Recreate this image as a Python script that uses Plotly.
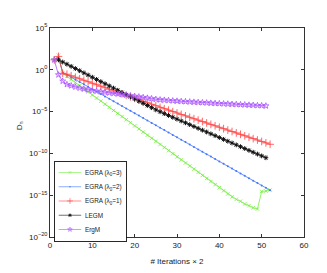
import numpy as np
import plotly.graph_objects as go

# ---- data (log10 of D_n) ----
iters_egra = list(range(1, 53))
egra3_log10 = [1.19, 1.75, -0.42, -0.79, -1.16, -1.53, -1.90, -2.27, -2.64, -3.01,
               -3.38, -3.75, -4.12, -4.49, -4.86, -5.23, -5.60, -5.97, -6.34, -6.71,
               -7.08, -7.45, -7.82, -8.19, -8.56, -8.93, -9.30, -9.67, -10.04, -10.41,
               -10.78, -11.15, -11.52, -11.89, -12.26, -12.63, -13.00, -13.37, -13.74, -14.11,
               -14.48, -14.85, -15.20, -15.50, -15.72, -16.05, -16.25, -16.50, -16.65, -14.55,
               -14.50, -14.38]
egra2_log10 = [1.19, 1.50, -0.30, -0.59, -0.88, -1.16, -1.45, -1.74, -2.03, -2.32,
               -2.60, -2.89, -3.18, -3.47, -3.76, -4.04, -4.33, -4.62, -4.91, -5.20,
               -5.48, -5.77, -6.06, -6.35, -6.64, -6.92, -7.21, -7.50, -7.79, -8.08,
               -8.36, -8.65, -8.94, -9.23, -9.52, -9.80, -10.09, -10.38, -10.67, -10.96,
               -11.24, -11.53, -11.82, -12.11, -12.40, -12.68, -12.97, -13.26, -13.55, -13.84,
               -14.12, -14.41]
egra1_log10 = [1.19, 1.60, -0.42, -0.53, -0.71, -0.89, -1.07, -1.25, -1.43, -1.61,
               -1.79, -1.97, -2.15, -2.33, -2.51, -2.69, -2.87, -3.05, -3.23, -3.41,
               -3.59, -3.77, -3.95, -4.13, -4.31, -4.49, -4.66, -4.83, -5.00, -5.17,
               -5.34, -5.51, -5.68, -5.85, -6.02, -6.19, -6.36, -6.53, -6.70, -6.87,
               -7.04, -7.21, -7.38, -7.55, -7.72, -7.89, -8.06, -8.23, -8.40, -8.57,
               -8.74, -8.91]
iters_legm = list(range(2, 52))
legm_log10 = [1.19, 0.93, 0.67, 0.41, 0.15, -0.11, -0.37, -0.63, -0.89, -1.15,
              -1.41, -1.67, -1.93, -2.19, -2.45, -2.71, -2.97, -3.23, -3.49, -3.75,
              -4.01, -4.27, -4.53, -4.79, -5.02, -5.24, -5.46, -5.68, -5.90, -6.12,
              -6.34, -6.56, -6.78, -7.00, -7.22, -7.44, -7.66, -7.88, -8.10, -8.32,
              -8.54, -8.76, -8.98, -9.20, -9.42, -9.64, -9.86, -10.08, -10.30, -10.52]
iters_ergm = list(range(1, 52))
ergm_log10 = [1.19, -0.60, -1.35, -1.75, -1.90, -2.05, -2.18, -2.29, -2.38, -2.47,
              -2.55, -2.62, -2.69, -2.76, -2.82, -2.88, -2.95, -3.02, -3.09, -3.16,
              -3.23, -3.30, -3.37, -3.44, -3.52, -3.58, -3.62, -3.66, -3.70, -3.73,
              -3.77, -3.80, -3.83, -3.86, -3.89, -3.92, -3.95, -3.98, -4.01, -4.03,
              -4.06, -4.08, -4.11, -4.13, -4.16, -4.18, -4.21, -4.23, -4.26, -4.28,
              -4.31]

ytick_exp = [5, 0, -5, -10, -15, -20]
xtick_vals = [0, 10, 20, 30, 40, 50, 60]

series = [
    ("EGRA (λ<sub>0</sub>=3)", iters_egra, egra3_log10, "#77ee44", dict(symbol="x-thin-open", size=3.5, line=dict(width=0.8, color="#77ee44"))),
    ("EGRA (λ<sub>0</sub>=2)", iters_egra, egra2_log10, "#4477ff", dict(symbol="circle", size=2, color="#4477ff")),
    ("EGRA (λ<sub>0</sub>=1)", iters_egra, egra1_log10, "#ff4444", dict(symbol="cross-thin-open", size=5.5, line=dict(width=0.8, color="#ff4444"))),
    ("LEGM", iters_legm, legm_log10, "#111111", dict(symbol="asterisk-open", size=4, line=dict(width=1, color="#111111"))),
    ("ErgM", iters_ergm, ergm_log10, "#aa55ff", dict(symbol="star-open", size=4.5, line=dict(width=0.8, color="#aa55ff"))),
]

fig = go.Figure()
for name, xs, ys, col, mk in series:
    fig.add_trace(go.Scatter(
        x=xs, y=np.power(10.0, ys), name=name, mode="lines+markers",
        line=dict(color=col, width=0.8), marker=mk))

font = dict(family="Liberation Sans, Arial, sans-serif", size=8, color="#222")
axis_common = dict(showline=True, linecolor="#333", linewidth=1, mirror="ticks",
                   ticks="inside", ticklen=3, tickcolor="#333", showgrid=False,
                   zeroline=False, tickfont=font, automargin=False)
fig.update_layout(
    width=327, height=273,
    margin=dict(l=42, r=31, t=20, b=30),
    paper_bgcolor="white", plot_bgcolor="white",
    font=font,
    showlegend=True,
    legend=dict(x=0.016, y=0.365, xanchor="left", yanchor="top",
                bordercolor="#111", borderwidth=1.2, bgcolor="white",
                font=dict(family="Liberation Sans, Arial, sans-serif", size=8.5, color="#222"),
                tracegroupgap=0, itemwidth=30, itemsizing="trace"),
    xaxis=dict(range=[0, 60], tickvals=xtick_vals,
               title=dict(text="# Iterations × 2", standoff=9, font=font), **axis_common),
    yaxis=dict(type="log", range=[-20, 5],
               tickvals=[10.0 ** e for e in ytick_exp],
               ticktext=["10<sup>%s</sup>" % (str(e).replace("-", "−")) for e in ytick_exp],
               **axis_common),
    annotations=[dict(text="D<sub>n</sub>", textangle=-90, xref="paper", yref="paper",
                      x=-0.118, y=0.53, xanchor="center", yanchor="middle",
                      showarrow=False, font=font)],
)

# shrink the library-drawn legend box to the compact size of the reference
post = """
var gd = document.getElementById('{plot_id}');
function shrinkLegend(){
  var lg = gd.querySelector('g.legend');
  if (!lg) return;
  var t = lg.getAttribute('transform') || '';
  if (t.indexOf('scale') < 0) lg.setAttribute('transform', t + ' scale(0.75)');
}
shrinkLegend();
"""
fig.write_html("out.html", post_script=post)
